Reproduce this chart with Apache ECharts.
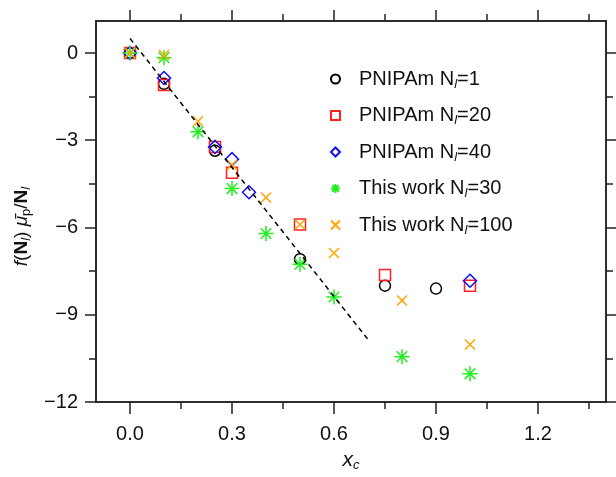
<!DOCTYPE html>
<html>
<head>
<meta charset="utf-8">
<script src="https://cdn.jsdelivr.net/npm/echarts@6/dist/echarts.min.js"></script>
<style>
  html, body { margin: 0; padding: 0; background: #fff; }
  #chart { width: 616px; height: 477px; }
</style>
</head>
<body>
<div id="chart"></div>
<script>
// values
const pnipam1 = [[0, 0], [0.1, -1.06], [0.25, -3.36], [0.5, -7.09], [0.75, -8.0], [0.9, -8.1]]
const pnipam20 = [[0, 0], [0.1, -1.1], [0.25, -3.23], [0.3, -4.12], [0.5, -5.9], [0.75, -7.63], [1.0, -8.0]]
const pnipam40 = [[0, 0], [0.1, -0.86], [0.25, -3.23], [0.3, -3.65], [0.35, -4.79], [1.0, -7.83]]
const work30 = [[0, 0], [0.1, -0.16], [0.2, -2.71], [0.3, -4.66], [0.4, -6.21], [0.5, -7.26], [0.6, -8.39], [0.8, -10.44], [1.0, -11.03]]
const work100 = [[0, 0], [0.1, -0.07], [0.2, -2.35], [0.3, -3.85], [0.4, -4.97], [0.5, -5.9], [0.6, -6.88], [0.8, -8.51], [1.0, -10.02]]
const fitLine = [[0, 0.5], [0.7, -9.85]]

const xMajor = [0, 0.3, 0.6, 0.9, 1.2]
const xMinor = [0.15, 0.45, 0.75, 1.05, 1.35]
const yMajor = [0, -3, -6, -9, -12]
const yMinor = [-1.5, -4.5, -7.5, -10.5]

const FONT = 'Liberation Sans, Arial, sans-serif'
const AX = '#222'

const STAR = 'path://M0,-1L0,1M-1,0L1,0M-0.71,-0.71L0.71,0.71M-0.71,0.71L0.71,-0.71'
const CROSS = 'path://M-1,-1L1,1M-1,1L1,-1'

const subStyle = {fontSize: 13, fontFamily: FONT, fontStyle: 'italic', padding: [10, 0, 0, 0], color: '#111'}

function xAx(pos, vals, len, labels) {
    return {
        type: 'value',
        min: -0.1,
        max: 1.4,
        position: pos,
        axisLine: {show: true, onZero: false, lineStyle: {color: AX, width: 1.5}},
        axisTick: {show: true, length: len, customValues: vals, lineStyle: {color: AX, width: 1.5}},
        axisLabel: {
            show: labels,
            customValues: vals,
            margin: 22,
            color: '#111',
            fontSize: 20,
            fontFamily: FONT,
            formatter: (v) => v.toFixed(1),
        },
        splitLine: {show: false},
    }
}

function yAx(pos, vals, len, labels) {
    return {
        type: 'value',
        min: -12,
        max: 1.1,
        position: pos,
        axisLine: {show: true, onZero: false, lineStyle: {color: AX, width: 1.5}},
        axisTick: {show: true, length: len, customValues: vals, lineStyle: {color: AX, width: 1.5}},
        axisLabel: {
            show: labels,
            customValues: vals,
            margin: 18,
            color: '#111',
            fontSize: 20,
            fontFamily: FONT,
            formatter: (v) => String(v).replace('-', '\u2212'),
        },
        splitLine: {show: false},
    }
}

const xBottom = xAx('bottom', xMajor, 12, true)
xBottom.name = '{i|x}{s|c}'
xBottom.nameLocation = 'middle'
xBottom.nameGap = 47
xBottom.nameTextStyle = {
    rich: {
        i: {fontSize: 21, fontFamily: FONT, fontStyle: 'italic', color: '#111'},
        s: subStyle,
    },
}

const yLeft = yAx('left', yMajor, 11, true)
yLeft.name = '{i|f}{n|(}{b|N}{s|l}{n|) }{i|\u03bc\u0304}{p|p}{n|/}{b|N}{s|l}'
yLeft.nameLocation = 'middle'
yLeft.nameGap = 57
yLeft.nameRotate = 90
yLeft.nameTextStyle = {
    padding: [0, 30, 0, 0],
    rich: {
        i: {fontSize: 19, fontFamily: FONT, fontStyle: 'italic', color: '#111'},
        n: {fontSize: 19, fontFamily: FONT, color: '#111'},
        b: {fontSize: 19, fontFamily: FONT, fontWeight: 'bold', color: '#111'},
        p: {fontSize: 13, fontFamily: FONT, padding: [9, 0, 0, 0], color: '#111'},
        s: {fontSize: 13, fontFamily: FONT, fontStyle: 'italic', padding: [9, 0, 0, 0], color: '#111'},
    },
}

function scatter(name, data, symbol, size, color) {
    return {
        name,
        type: 'scatter',
        data,
        symbol,
        symbolSize: size,
        itemStyle: {color: 'rgba(0,0,0,0)', borderColor: color, borderWidth: 1.5, opacity: 1},
        emphasis: {disabled: true},
    }
}

const myChart = echarts.init(document.getElementById('chart'))
myChart.setOption({
    animation: false,
    grid: {left: 96, right: 10, top: 21, bottom: 67},
    xAxis: [xBottom, xAx('bottom', xMinor, 7, false), xAx('top', xMajor, 11, false), xAx('top', xMinor, 7, false)],
    yAxis: [yLeft, yAx('left', yMinor, 7, false), yAx('right', yMajor, 11, false), yAx('right', yMinor, 7, false)],
    legend: {
        orient: 'vertical',
        left: 325,
        top: 64,
        itemWidth: 9,
        itemHeight: 9,
        itemGap: 15,
        textStyle: {
            color: '#111',
            fontSize: 20,
            fontFamily: FONT,
            padding: [0, 0, 0, 14],
            rich: {
                t: {fontSize: 20, fontFamily: FONT, color: '#111'},
                s: subStyle,
            },
        },
        formatter(name) {
            const [pre, post] = name.split('|')
            return `{t|${pre}}{s|l}{t|${post}}`
        },
        data: ['PNIPAm N|=1', 'PNIPAm N|=20', 'PNIPAm N|=40', 'This work N|=30', 'This work N|=100'],
    },
    series: [
        {
            type: 'line',
            data: fitLine,
            symbol: 'none',
            lineStyle: {color: '#000', width: 1.5, type: [5, 4]},
            silent: true,
        },
        scatter('PNIPAm N|=1', pnipam1, 'circle', 11, '#000'),
        scatter('PNIPAm N|=20', pnipam20, 'rect', 11, '#ff2020'),
        scatter('PNIPAm N|=40', pnipam40, 'diamond', 13, '#1010ff'),
        scatter('This work N|=30', work30, STAR, 15, '#22ee22'),
        scatter('This work N|=100', work100, CROSS, 10, '#ffa500'),
    ],
})
</script>
</body>
</html>
